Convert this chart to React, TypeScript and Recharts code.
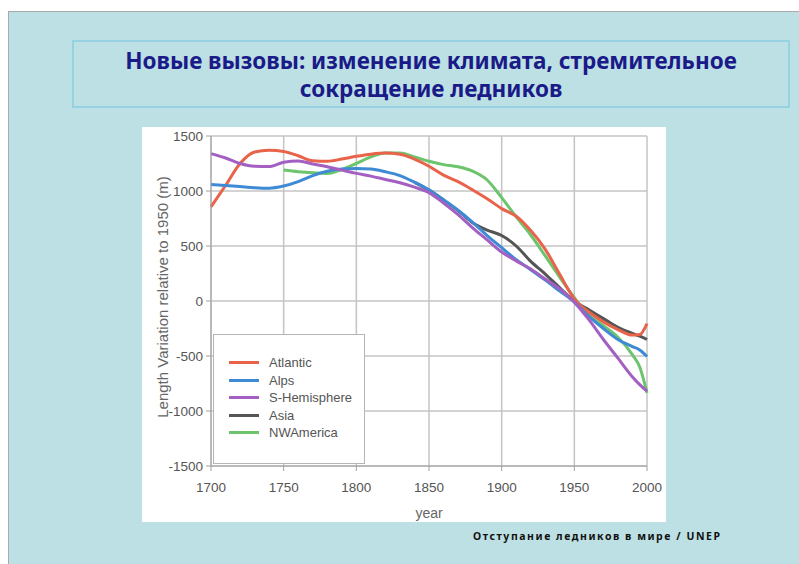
import { LineChart, Line, XAxis, YAxis, CartesianGrid, Legend } from "recharts";

const years = [
    1700, 1710, 1720, 1730, 1740, 1750, 1760, 1770, 1780, 1790,
    1800, 1810, 1820, 1830, 1840, 1850, 1860, 1870, 1880, 1890,
    1900, 1910, 1920, 1930, 1940, 1950, 1960, 1970, 1980, 1990,
    1995, 2000,
];

const atlantic = [
    855, 1050, 1250, 1355, 1370, 1360, 1320, 1275, 1270, 1290,
    1315, 1335, 1345, 1335, 1290, 1225, 1145, 1085, 1010, 930,
    840, 770, 640, 470, 240, 20, -100, -190, -260, -310,
    -305, -205,
];

const alps = [
    1060, 1050, 1040, 1030, 1025, 1045, 1085, 1140, 1180, 1200,
    1205, 1200, 1175, 1140, 1080, 1010, 920, 825, 715, 595,
    485, 375, 285, 190, 90, -10, -140, -250, -350, -415,
    -445, -505,
];

const sHemisphere = [
    1340, 1300, 1250, 1225, 1222, 1262, 1273, 1245, 1220, 1190,
    1160, 1135, 1105, 1075, 1035, 985, 890, 785, 665, 555,
    445, 365, 290, 200, 110, -10, -170, -350, -520, -690,
    -760, -820,
];

const asia = [
    null, null, null, null, null, null, null, null, null, null,
    null, null, null, null, 1078, 1008, 918, 822, 712, 645,
    595, 500, 360, 245, 120, 0, -80, -160, -240, -295,
    -320, -350,
];

const nwAmerica = [
    null, null, null, null, null, 1190, 1175, 1165, 1160, 1195,
    1250, 1310, 1345, 1345, 1310, 1270, 1240, 1220, 1180, 1100,
    940, 765, 600, 410, 215, 30, -130, -225, -330, -490,
    -600, -835,
];

const yearTicks = [1700, 1750, 1800, 1850, 1900, 1950, 2000];
const valueTicks = [-1500, -1000, -500, 0, 500, 1000, 1500];

// legend order
const series = [
    { key: "Atlantic", values: atlantic, color: "#E9634A" },
    { key: "Alps", values: alps, color: "#3E8AD4" },
    { key: "S-Hemisphere", values: sHemisphere, color: "#A35FC2" },
    { key: "Asia", values: asia, color: "#555555" },
    { key: "NWAmerica", values: nwAmerica, color: "#6CC46C" },
];

// drawing order (Asia sits under the others)
const drawOrder = ["Asia", "NWAmerica", "Atlantic", "Alps", "S-Hemisphere"];

const data = years.map((year, i) => {
    const row: Record<string, number | null> = { year };
    series.forEach((s) => {
        row[s.key] = s.values[i];
    });
    return row;
});

const axisFont = "'Liberation Sans', Arial, sans-serif";

function LegendBox() {
    return (
        <div
            style={{
                width: 152,
                height: 130,
                background: "#fff",
                border: "1px solid #b5b5b5",
                boxSizing: "border-box",
                paddingTop: 19,
                fontFamily: axisFont,
                fontSize: 13,
                color: "#555",
            }}
        >
            {series.map((s) => (
                <div
                    key={s.key}
                    style={{ display: "flex", alignItems: "center", height: 17.5 }}
                >
                    <span
                        style={{
                            display: "inline-block",
                            width: 30,
                            height: 3,
                            background: s.color,
                            marginLeft: 15,
                            marginRight: 10,
                        }}
                    />
                    {s.key}
                </div>
            ))}
        </div>
    );
}

function YLabel(props: any) {
    const vb = props.viewBox;
    const cx = vb.x + 10;
    const cy = vb.y + vb.height / 2 - 4;
    return (
        <text
            x={cx}
            y={cy}
            transform={`rotate(-90 ${cx} ${cy})`}
            textAnchor="middle"
            dominantBaseline="central"
            fontFamily={axisFont}
            fontSize={15}
            fill="#666"
        >
            Length Variation relative to 1950 (m)
        </text>
    );
}

export default function App() {
    return (
        <div
            style={{
                position: "absolute",
                left: 0,
                top: 0,
                width: 799,
                height: 564,
                background: "#fff",
                overflow: "hidden",
            }}
        >
            {/* slide */}
            <div
                style={{
                    position: "absolute",
                    left: 8,
                    top: 11,
                    width: 791,
                    height: 553,
                    background: "#BCE0E3",
                    borderTop: "1px solid #aaa",
                    borderLeft: "1px solid #aaa",
                }}
            />

            {/* title */}
            <div
                style={{
                    position: "absolute",
                    left: 72,
                    top: 40,
                    width: 718,
                    height: 68,
                    border: "2px solid #97D2E2",
                    boxSizing: "border-box",
                    textAlign: "center",
                    fontFamily: "'Noto Sans', sans-serif",
                    fontWeight: 700,
                    fontSize: 22.5,
                    lineHeight: "28px",
                    paddingTop: 5,
                    color: "#1A1A88",
                }}
            >
                Новые вызовы: изменение климата, стремительное
                <br />
                сокращение ледников
            </div>

            {/* chart */}
            <div
                style={{
                    position: "absolute",
                    left: 142,
                    top: 127,
                    width: 524,
                    height: 395,
                    background: "#fff",
                    overflow: "hidden",
                }}
            >
                <LineChart
                    width={524}
                    height={395}
                    data={data}
                    margin={{ top: 9, right: 19, bottom: 3, left: 10 }}
                >
                    <CartesianGrid stroke="#c4c4c4" strokeWidth={1.5} />
                    <XAxis
                        dataKey="year"
                        type="number"
                        domain={[1700, 2000]}
                        ticks={yearTicks}
                        height={53}
                        stroke="#a0a0a0"
                        tickSize={5}
                        tickMargin={11}
                        tick={{ fill: "#555", fontSize: 13.5, fontFamily: axisFont }}
                        label={{
                            value: "year",
                            position: "insideBottom",
                            offset: 1,
                            fill: "#666",
                            fontSize: 14,
                            fontFamily: axisFont,
                        }}
                    />
                    <YAxis
                        type="number"
                        domain={[-1500, 1500]}
                        ticks={valueTicks}
                        width={59}
                        stroke="#a0a0a0"
                        tickSize={5}
                        tickMargin={3}
                        tick={{ fill: "#555", fontSize: 13.5, fontFamily: axisFont }}
                        label={<YLabel />}
                    />
                    {drawOrder.map((k) => {
                        const s = series.find((x) => x.key === k)!;
                        return (
                            <Line
                                key={s.key}
                                dataKey={s.key}
                                type="monotone"
                                stroke={s.color}
                                strokeWidth={3}
                                dot={false}
                                isAnimationActive={false}
                            />
                        );
                    })}
                    <Legend
                        layout="vertical"
                        align="center"
                        verticalAlign="middle"
                        content={<LegendBox />}
                        wrapperStyle={{ left: 71, top: 207, width: 152, height: 130 }}
                    />
                </LineChart>
            </div>

            {/* caption */}
            <div
                style={{
                    position: "absolute",
                    left: 473,
                    top: 529,
                    fontFamily: "'Noto Sans', sans-serif",
                    fontWeight: 700,
                    fontSize: 10.5,
                    letterSpacing: 1.55,
                    color: "#111",
                    whiteSpace: "nowrap",
                }}
            >
                Отступание ледников в мире / UNEP
            </div>
        </div>
    );
}
